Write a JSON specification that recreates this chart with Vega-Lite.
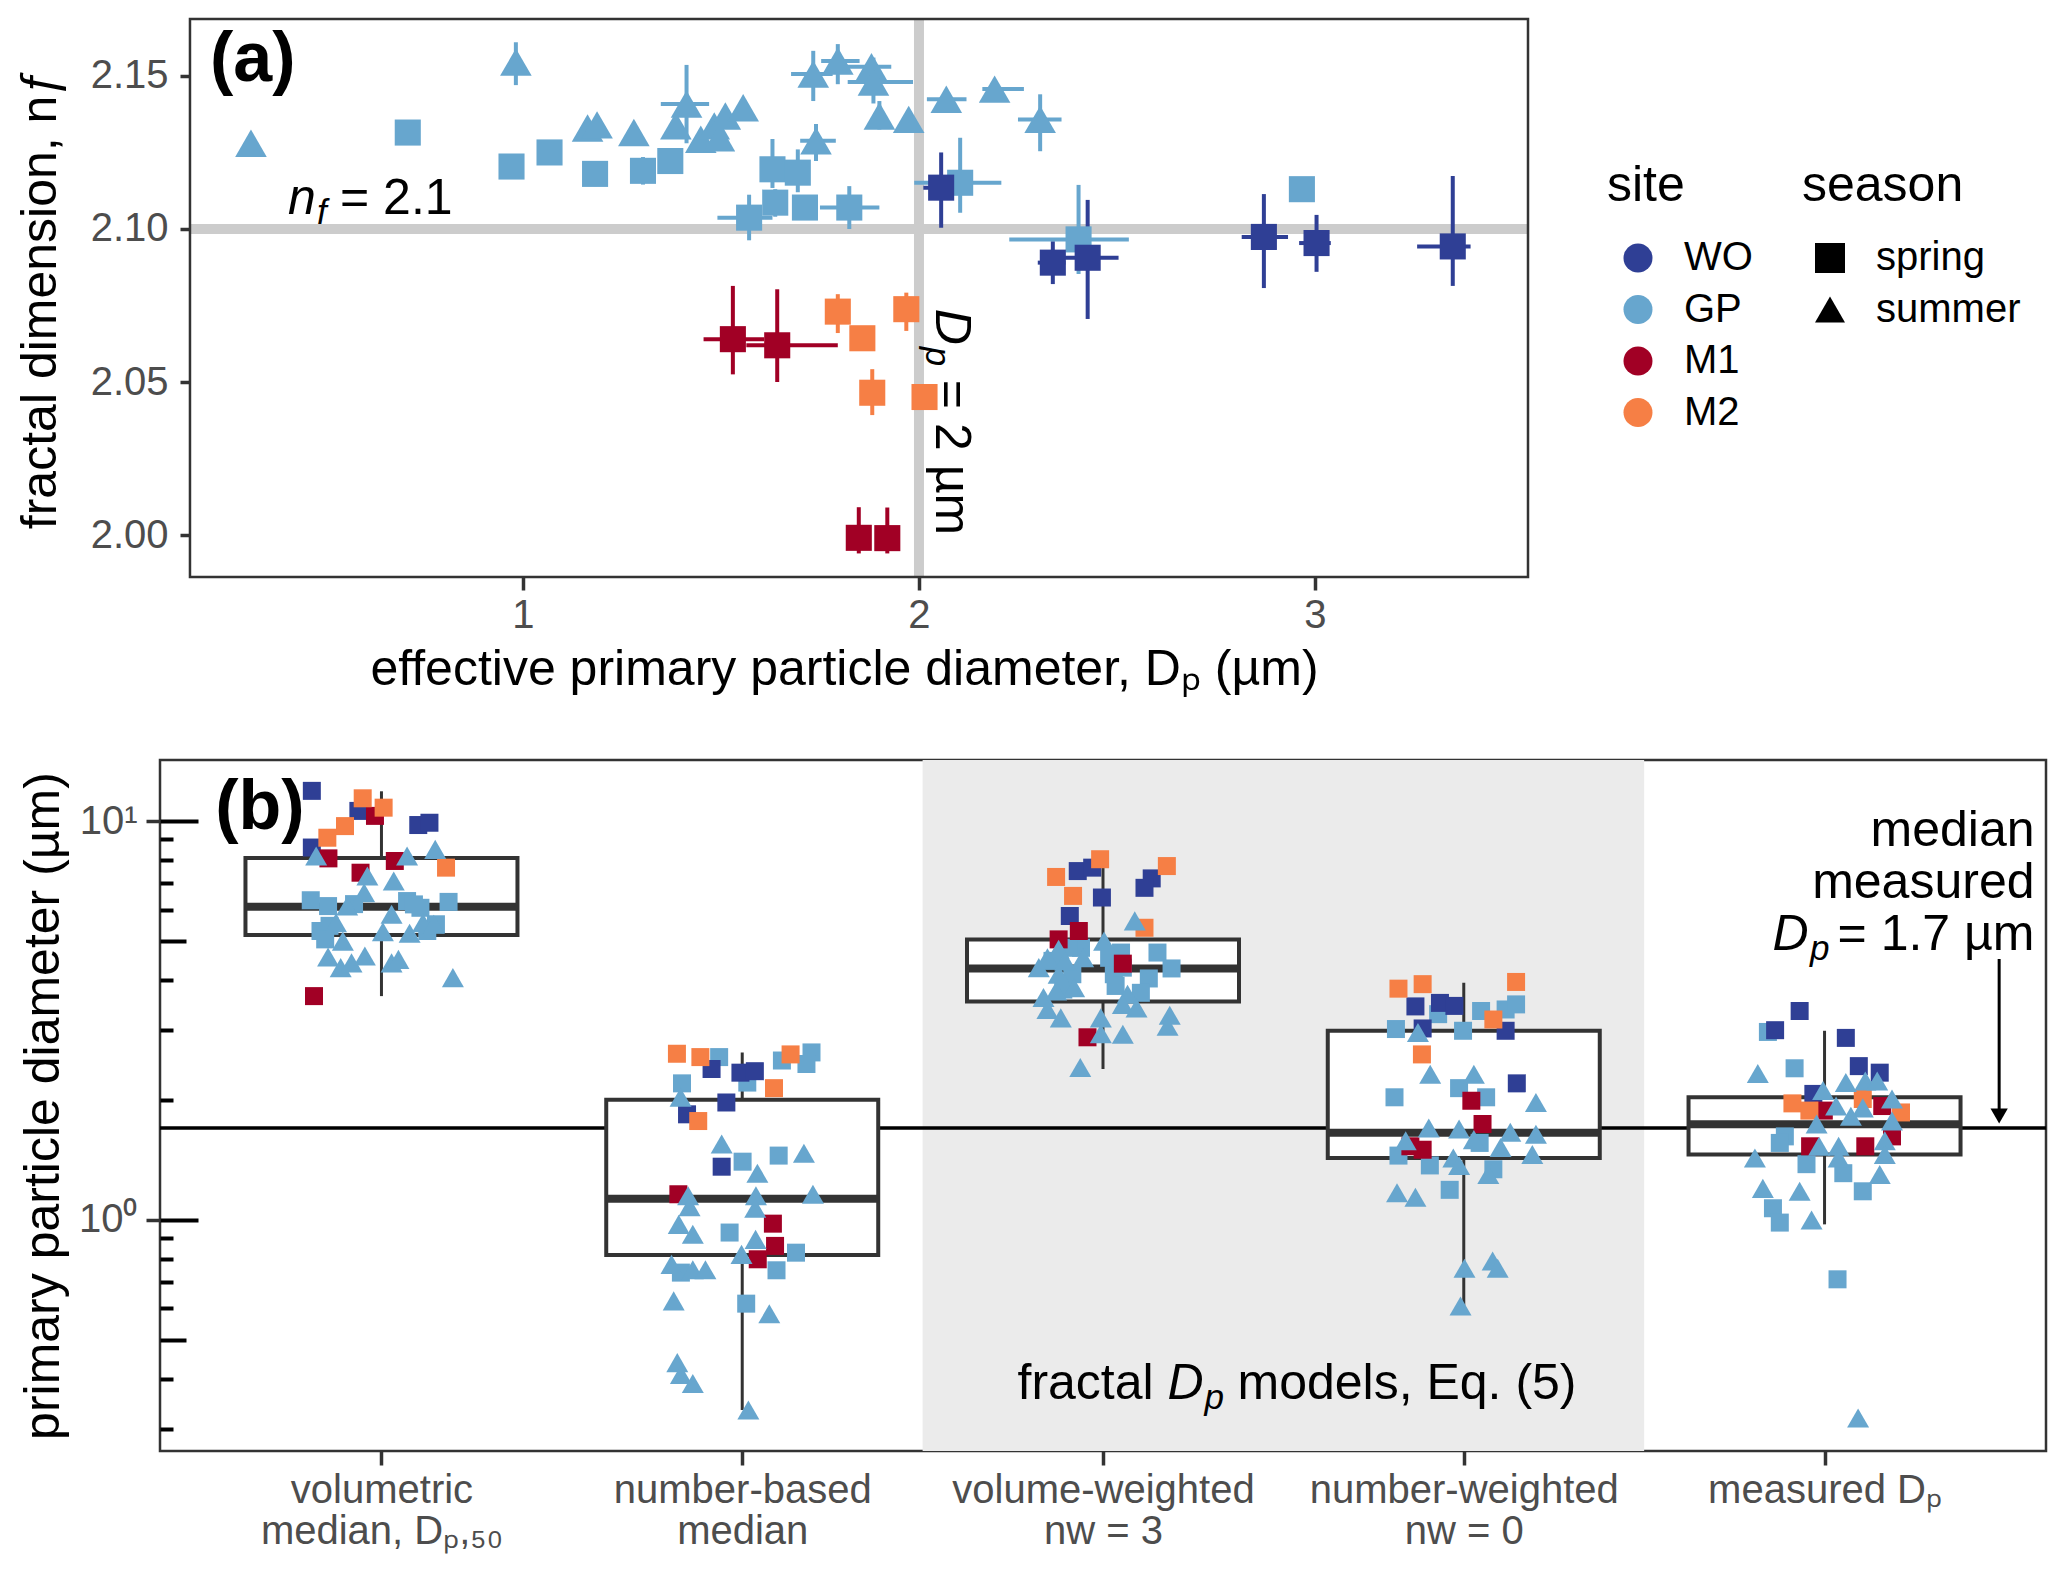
{
  "$schema": "https://vega.github.io/schema/vega-lite/v6.json",
  "background": "white",
  "padding": {"left": 15, "top": 14, "right": 5, "bottom": 5},
  "spacing": 183,
  "bounds": "flush",
  "config": {
    "font": "Liberation Sans",
    "view": {"stroke": "#333333", "strokeWidth": 2.5},
    "axis": {"labelFont": "Liberation Sans", "titleFont": "Liberation Sans", "labelFontSize": 40, "titleFontSize": 50, "labelColor": "#4D4D4D", "titleColor": "#000000", "titleFontWeight": "normal", "tickColor": "#333333", "tickWidth": 3.5, "grid": false, "domain": false, "labelLimit": 600},
    "legend": {"labelFont": "Liberation Sans", "titleFont": "Liberation Sans", "labelFontSize": 40, "titleFontSize": 50, "titleFontWeight": "normal", "labelColor": "#000000", "titleColor": "#000000", "padding": 0},
    "text": {"font": "Liberation Sans", "color": "#000000"}
  },
  "resolve": {"scale": {"color": "independent", "shape": "independent", "size": "independent"}, "legend": {"color": "independent", "shape": "independent", "size": "independent"}},
  "datasets": {
    "a": [
      {"site":"GP","season":"spring","dp":0.709,"nf":2.1315,"dlo":0.709,"dhi":0.709,"nlo":2.1315,"nhi":2.1315},
      {"site":"GP","season":"spring","dp":0.971,"nf":2.1204,"dlo":0.971,"dhi":0.971,"nlo":2.119,"nhi":2.122},
      {"site":"GP","season":"spring","dp":1.067,"nf":2.125,"dlo":1.067,"dhi":1.067,"nlo":2.125,"nhi":2.125},
      {"site":"GP","season":"spring","dp":1.182,"nf":2.118,"dlo":1.182,"dhi":1.182,"nlo":2.114,"nhi":2.122},
      {"site":"GP","season":"spring","dp":1.303,"nf":2.119,"dlo":1.303,"dhi":1.303,"nlo":2.1145,"nhi":2.1235},
      {"site":"GP","season":"spring","dp":1.372,"nf":2.1222,"dlo":1.372,"dhi":1.372,"nlo":2.119,"nhi":2.125},
      {"site":"GP","season":"spring","dp":1.630,"nf":2.1195,"dlo":1.630,"dhi":1.630,"nlo":2.1134,"nhi":2.1294},
      {"site":"GP","season":"spring","dp":1.694,"nf":2.1184,"dlo":1.694,"dhi":1.694,"nlo":2.112,"nhi":2.126},
      {"site":"GP","season":"spring","dp":1.637,"nf":2.1086,"dlo":1.637,"dhi":1.637,"nlo":2.104,"nhi":2.113},
      {"site":"GP","season":"spring","dp":1.571,"nf":2.1037,"dlo":1.491,"dhi":1.630,"nlo":2.0963,"nhi":2.1112},
      {"site":"GP","season":"spring","dp":1.712,"nf":2.107,"dlo":1.712,"dhi":1.712,"nlo":2.103,"nhi":2.111},
      {"site":"GP","season":"spring","dp":1.824,"nf":2.107,"dlo":1.75,"dhi":1.90,"nlo":2.1,"nhi":2.114},
      {"site":"GP","season":"spring","dp":2.104,"nf":2.1151,"dlo":1.988,"dhi":2.208,"nlo":2.1053,"nhi":2.1298},
      {"site":"GP","season":"spring","dp":2.403,"nf":2.0966,"dlo":2.228,"dhi":2.53,"nlo":2.0853,"nhi":2.1144},
      {"site":"GP","season":"spring","dp":2.967,"nf":2.113,"dlo":2.967,"dhi":2.967,"nlo":2.113,"nhi":2.113},
      {"site":"GP","season":"summer","dp":0.313,"nf":2.128,"dlo":0.313,"dhi":0.313,"nlo":2.128,"nhi":2.128},
      {"site":"GP","season":"summer","dp":0.982,"nf":2.1545,"dlo":0.982,"dhi":0.982,"nlo":2.147,"nhi":2.161},
      {"site":"GP","season":"summer","dp":1.163,"nf":2.133,"dlo":1.163,"dhi":1.163,"nlo":2.133,"nhi":2.133},
      {"site":"GP","season":"summer","dp":1.187,"nf":2.134,"dlo":1.187,"dhi":1.187,"nlo":2.134,"nhi":2.134},
      {"site":"GP","season":"summer","dp":1.28,"nf":2.1315,"dlo":1.28,"dhi":1.28,"nlo":2.1295,"nhi":2.1335},
      {"site":"GP","season":"summer","dp":1.386,"nf":2.1337,"dlo":1.386,"dhi":1.386,"nlo":2.1337,"nhi":2.1337},
      {"site":"GP","season":"summer","dp":1.413,"nf":2.1408,"dlo":1.348,"dhi":1.470,"nlo":2.128,"nhi":2.1536},
      {"site":"GP","season":"summer","dp":1.449,"nf":2.1293,"dlo":1.449,"dhi":1.449,"nlo":2.1293,"nhi":2.1293},
      {"site":"GP","season":"summer","dp":1.483,"nf":2.1337,"dlo":1.483,"dhi":1.483,"nlo":2.1337,"nhi":2.1337},
      {"site":"GP","season":"summer","dp":1.496,"nf":2.1298,"dlo":1.496,"dhi":1.496,"nlo":2.1298,"nhi":2.1298},
      {"site":"GP","season":"summer","dp":1.511,"nf":2.1369,"dlo":1.511,"dhi":1.511,"nlo":2.1369,"nhi":2.1369},
      {"site":"GP","season":"summer","dp":1.556,"nf":2.1396,"dlo":1.556,"dhi":1.556,"nlo":2.1365,"nhi":2.1425},
      {"site":"GP","season":"summer","dp":1.733,"nf":2.1506,"dlo":1.677,"dhi":1.782,"nlo":2.1418,"nhi":2.1582},
      {"site":"GP","season":"summer","dp":1.795,"nf":2.1549,"dlo":1.753,"dhi":1.85,"nlo":2.1473,"nhi":2.1604},
      {"site":"GP","season":"summer","dp":1.740,"nf":2.1288,"dlo":1.70,"dhi":1.79,"nlo":2.1222,"nhi":2.1343},
      {"site":"GP","season":"summer","dp":1.88,"nf":2.153,"dlo":1.80,"dhi":1.93,"nlo":2.150,"nhi":2.156},
      {"site":"GP","season":"summer","dp":1.885,"nf":2.148,"dlo":1.82,"dhi":1.985,"nlo":2.141,"nhi":2.156},
      {"site":"GP","season":"summer","dp":1.900,"nf":2.1369,"dlo":1.900,"dhi":1.900,"nlo":2.1325,"nhi":2.1418},
      {"site":"GP","season":"summer","dp":1.974,"nf":2.1358,"dlo":1.974,"dhi":1.974,"nlo":2.1358,"nhi":2.1358},
      {"site":"GP","season":"summer","dp":2.069,"nf":2.1424,"dlo":2.02,"dhi":2.12,"nlo":2.1395,"nhi":2.145},
      {"site":"GP","season":"summer","dp":2.191,"nf":2.1457,"dlo":2.16,"dhi":2.265,"nlo":2.1457,"nhi":2.1457},
      {"site":"GP","season":"summer","dp":2.306,"nf":2.1358,"dlo":2.25,"dhi":2.36,"nlo":2.1254,"nhi":2.144},
      {"site":"WO","season":"spring","dp":2.056,"nf":2.1135,"dlo":2.011,"dhi":2.107,"nlo":2.1004,"nhi":2.125},
      {"site":"WO","season":"spring","dp":2.338,"nf":2.089,"dlo":2.30,"dhi":2.37,"nlo":2.082,"nhi":2.096},
      {"site":"WO","season":"spring","dp":2.426,"nf":2.0906,"dlo":2.365,"dhi":2.504,"nlo":2.0706,"nhi":2.1095},
      {"site":"WO","season":"spring","dp":2.871,"nf":2.0974,"dlo":2.815,"dhi":2.932,"nlo":2.0807,"nhi":2.1114},
      {"site":"WO","season":"spring","dp":3.004,"nf":2.0954,"dlo":2.96,"dhi":3.04,"nlo":2.086,"nhi":2.1046},
      {"site":"WO","season":"spring","dp":3.348,"nf":2.0943,"dlo":3.258,"dhi":3.393,"nlo":2.0814,"nhi":2.1173},
      {"site":"M1","season":"spring","dp":1.530,"nf":2.064,"dlo":1.456,"dhi":1.609,"nlo":2.0525,"nhi":2.0814},
      {"site":"M1","season":"spring","dp":1.642,"nf":2.062,"dlo":1.564,"dhi":1.795,"nlo":2.05,"nhi":2.0803},
      {"site":"M1","season":"spring","dp":1.848,"nf":1.9991,"dlo":1.848,"dhi":1.848,"nlo":1.994,"nhi":2.0091},
      {"site":"M1","season":"spring","dp":1.92,"nf":1.999,"dlo":1.92,"dhi":1.92,"nlo":1.994,"nhi":2.009},
      {"site":"M2","season":"spring","dp":1.795,"nf":2.073,"dlo":1.795,"dhi":1.795,"nlo":2.066,"nhi":2.0787},
      {"site":"M2","season":"spring","dp":1.857,"nf":2.0643,"dlo":1.857,"dhi":1.857,"nlo":2.0643,"nhi":2.0643},
      {"site":"M2","season":"spring","dp":1.882,"nf":2.0465,"dlo":1.87,"dhi":1.895,"nlo":2.0392,"nhi":2.0542},
      {"site":"M2","season":"spring","dp":1.968,"nf":2.0738,"dlo":1.968,"dhi":1.968,"nlo":2.0667,"nhi":2.0792},
      {"site":"M2","season":"spring","dp":2.014,"nf":2.0451,"dlo":2.014,"dhi":2.014,"nlo":2.0451,"nhi":2.0451}
    ],
    "bbox": [
      {"idx":1,"lo":3.64,"q1":5.18,"med":6.10,"q3":8.08,"hi":11.87},
      {"idx":2,"lo":0.334,"q1":0.817,"med":1.13,"q3":2.00,"hi":2.63},
      {"idx":3,"lo":2.39,"q1":3.53,"med":4.27,"q3":5.05,"hi":7.64},
      {"idx":4,"lo":0.586,"q1":1.43,"med":1.655,"q3":2.98,"hi":3.93},
      {"idx":5,"lo":0.975,"q1":1.46,"med":1.737,"q3":2.03,"hi":2.98}
    ],
    "b": [
      {"x":0.804,"v":6.33,"site":"GP","season":"spring"},{"x":0.852,"v":6.12,"site":"GP","season":"spring"},{"x":0.924,"v":6.19,"site":"GP","season":"spring"},{"x":1.071,"v":6.30,"site":"GP","season":"spring"},{"x":1.09,"v":6.18,"site":"GP","season":"spring"},{"x":1.108,"v":6.06,"site":"GP","season":"spring"},{"x":1.186,"v":6.27,"site":"GP","season":"spring"},{"x":0.831,"v":5.30,"site":"GP","season":"spring"},{"x":0.856,"v":5.46,"site":"GP","season":"spring"},{"x":0.844,"v":5.05,"site":"GP","season":"spring"},{"x":1.151,"v":5.51,"site":"GP","season":"spring"},{"x":1.127,"v":5.30,"site":"GP","season":"spring"},
      {"x":0.807,"v":11.9,"site":"WO","season":"spring"},{"x":0.936,"v":10.6,"site":"WO","season":"spring"},{"x":0.807,"v":8.58,"site":"WO","season":"spring"},{"x":1.102,"v":9.77,"site":"WO","season":"spring"},{"x":1.133,"v":9.90,"site":"WO","season":"spring"},
      {"x":0.982,"v":10.3,"site":"M1","season":"spring"},{"x":0.853,"v":8.06,"site":"M1","season":"spring"},{"x":1.037,"v":7.94,"site":"M1","season":"spring"},{"x":0.942,"v":7.42,"site":"M1","season":"spring"},{"x":0.813,"v":3.64,"site":"M1","season":"spring"},
      {"x":0.948,"v":11.4,"site":"M2","season":"spring"},{"x":1.006,"v":10.8,"site":"M2","season":"spring"},{"x":0.899,"v":9.71,"site":"M2","season":"spring"},{"x":0.850,"v":9.08,"site":"M2","season":"spring"},{"x":1.179,"v":7.64,"site":"M2","season":"spring"},
      {"x":0.819,"v":8.17,"site":"GP","season":"summer"},{"x":1.149,"v":8.49,"site":"GP","season":"summer"},{"x":1.071,"v":8.17,"site":"GP","season":"summer"},{"x":0.961,"v":7.28,"site":"GP","season":"summer"},{"x":1.034,"v":7.07,"site":"GP","season":"summer"},{"x":0.952,"v":6.61,"site":"GP","season":"summer"},{"x":0.905,"v":6.12,"site":"GP","season":"summer"},{"x":1.028,"v":5.84,"site":"GP","season":"summer"},{"x":0.874,"v":5.56,"site":"GP","season":"summer"},{"x":0.893,"v":5.00,"site":"GP","season":"summer"},{"x":1.004,"v":5.28,"site":"GP","season":"summer"},{"x":1.115,"v":5.56,"site":"GP","season":"summer"},{"x":1.145,"v":5.51,"site":"GP","season":"summer"},{"x":1.078,"v":5.23,"site":"GP","season":"summer"},{"x":0.852,"v":4.56,"site":"GP","season":"summer"},{"x":0.887,"v":4.29,"site":"GP","season":"summer"},{"x":0.917,"v":4.41,"site":"GP","season":"summer"},{"x":0.954,"v":4.59,"site":"GP","season":"summer"},{"x":1.028,"v":4.41,"site":"GP","season":"summer"},{"x":1.047,"v":4.50,"site":"GP","season":"summer"},{"x":1.198,"v":4.05,"site":"GP","season":"summer"},
      {"x":1.936,"v":2.56,"site":"GP","season":"spring"},{"x":2.192,"v":2.63,"site":"GP","season":"spring"},{"x":2.110,"v":2.51,"site":"GP","season":"spring"},{"x":2.178,"v":2.46,"site":"GP","season":"spring"},{"x":2.014,"v":2.21,"site":"GP","season":"spring"},{"x":1.833,"v":2.20,"site":"GP","season":"spring"},{"x":2.001,"v":1.40,"site":"GP","season":"spring"},{"x":2.101,"v":1.45,"site":"GP","season":"spring"},{"x":1.965,"v":0.93,"site":"GP","season":"spring"},{"x":2.149,"v":0.828,"site":"GP","season":"spring"},{"x":1.830,"v":0.738,"site":"GP","season":"spring"},{"x":2.095,"v":0.748,"site":"GP","season":"spring"},{"x":2.011,"v":0.617,"site":"GP","season":"spring"},
      {"x":1.915,"v":2.39,"site":"WO","season":"spring"},{"x":1.995,"v":2.34,"site":"WO","season":"spring"},{"x":2.035,"v":2.36,"site":"WO","season":"spring"},{"x":1.956,"v":1.97,"site":"WO","season":"spring"},{"x":1.847,"v":1.84,"site":"WO","season":"spring"},{"x":1.943,"v":1.36,"site":"WO","season":"spring"},
      {"x":1.823,"v":1.16,"site":"M1","season":"spring"},{"x":2.085,"v":0.979,"site":"M1","season":"spring"},{"x":2.091,"v":0.861,"site":"M1","season":"spring"},{"x":2.043,"v":0.797,"site":"M1","season":"spring"},
      {"x":1.819,"v":2.61,"site":"M2","season":"spring"},{"x":1.884,"v":2.56,"site":"M2","season":"spring"},{"x":2.134,"v":2.60,"site":"M2","season":"spring"},{"x":2.088,"v":2.14,"site":"M2","season":"spring"},{"x":1.878,"v":1.77,"site":"M2","season":"spring"},
      {"x":1.829,"v":2.03,"site":"GP","season":"summer"},{"x":1.943,"v":1.55,"site":"GP","season":"summer"},{"x":2.171,"v":1.47,"site":"GP","season":"summer"},{"x":2.042,"v":1.31,"site":"GP","season":"summer"},{"x":1.850,"v":1.15,"site":"GP","season":"summer"},{"x":1.854,"v":1.08,"site":"GP","season":"summer"},{"x":2.038,"v":1.15,"site":"GP","season":"summer"},{"x":2.036,"v":1.07,"site":"GP","season":"summer"},{"x":2.196,"v":1.16,"site":"GP","season":"summer"},{"x":1.824,"v":0.975,"site":"GP","season":"summer"},{"x":1.863,"v":0.921,"site":"GP","season":"summer"},{"x":2.037,"v":0.894,"site":"GP","season":"summer"},{"x":1.998,"v":0.82,"site":"GP","season":"summer"},{"x":1.804,"v":0.774,"site":"GP","season":"summer"},{"x":1.863,"v":0.75,"site":"GP","season":"summer"},{"x":1.898,"v":0.75,"site":"GP","season":"summer"},{"x":1.810,"v":0.627,"site":"GP","season":"summer"},{"x":2.075,"v":0.582,"site":"GP","season":"summer"},{"x":1.82,"v":0.439,"site":"GP","season":"summer"},{"x":1.83,"v":0.41,"site":"GP","season":"summer"},{"x":1.863,"v":0.389,"site":"GP","season":"summer"},{"x":2.017,"v":0.334,"site":"GP","season":"summer"},
      {"x":2.939,"v":4.81,"site":"GP","season":"spring"},{"x":3.05,"v":4.68,"site":"GP","season":"spring"},{"x":3.151,"v":4.68,"site":"GP","season":"spring"},{"x":3.19,"v":4.27,"site":"GP","season":"spring"},{"x":3.127,"v":4.03,"site":"GP","season":"spring"},{"x":3.035,"v":3.86,"site":"GP","season":"spring"},{"x":3.105,"v":3.71,"site":"GP","season":"spring"},{"x":2.86,"v":4.46,"site":"GP","season":"spring"},{"x":2.915,"v":4.13,"site":"GP","season":"spring"},{"x":3.03,"v":4.13,"site":"GP","season":"spring"},{"x":2.905,"v":4.81,"site":"GP","season":"spring"},{"x":3.055,"v":4.29,"site":"GP","season":"spring"},{"x":3.017,"v":4.54,"site":"GP","season":"spring"},{"x":2.89,"v":3.78,"site":"GP","season":"spring"},
      {"x":2.93,"v":7.49,"site":"WO","season":"spring"},{"x":2.97,"v":7.64,"site":"WO","season":"spring"},{"x":3.135,"v":7.18,"site":"WO","season":"spring"},{"x":3.115,"v":6.80,"site":"WO","season":"spring"},{"x":2.997,"v":6.43,"site":"WO","season":"spring"},{"x":2.908,"v":5.78,"site":"WO","season":"spring"},
      {"x":2.933,"v":5.30,"site":"M1","season":"spring"},{"x":2.877,"v":5.05,"site":"M1","season":"spring"},{"x":3.055,"v":4.39,"site":"M1","season":"spring"},{"x":2.957,"v":2.87,"site":"M1","season":"spring"},
      {"x":2.992,"v":8.02,"site":"M2","season":"spring"},{"x":2.87,"v":7.24,"site":"M2","season":"spring"},{"x":3.177,"v":7.71,"site":"M2","season":"spring"},{"x":2.917,"v":6.49,"site":"M2","season":"spring"},{"x":3.115,"v":5.40,"site":"M2","season":"spring"},
      {"x":3.088,"v":5.62,"site":"GP","season":"summer"},{"x":3.003,"v":5.00,"site":"GP","season":"summer"},{"x":2.877,"v":4.77,"site":"GP","season":"summer"},{"x":2.822,"v":4.29,"site":"GP","season":"summer"},{"x":2.846,"v":4.54,"site":"GP","season":"summer"},{"x":2.877,"v":4.13,"site":"GP","season":"summer"},{"x":2.895,"v":4.46,"site":"GP","season":"summer"},{"x":2.92,"v":3.82,"site":"GP","season":"summer"},{"x":2.87,"v":3.75,"site":"GP","season":"summer"},{"x":2.835,"v":3.61,"site":"GP","season":"summer"},{"x":2.945,"v":4.54,"site":"GP","season":"summer"},{"x":3.068,"v":3.68,"site":"GP","season":"summer"},{"x":3.055,"v":3.47,"site":"GP","season":"summer"},{"x":3.093,"v":3.40,"site":"GP","season":"summer"},{"x":2.846,"v":3.37,"site":"GP","season":"summer"},{"x":2.883,"v":3.21,"site":"GP","season":"summer"},{"x":2.994,"v":3.21,"site":"GP","season":"summer"},{"x":3.055,"v":2.92,"site":"GP","season":"summer"},{"x":3.185,"v":3.26,"site":"GP","season":"summer"},{"x":3.179,"v":3.06,"site":"GP","season":"summer"},{"x":2.994,"v":2.93,"site":"GP","season":"summer"},{"x":2.937,"v":2.41,"site":"GP","season":"summer"},
      {"x":3.929,"v":3.28,"site":"GP","season":"spring"},{"x":4.048,"v":3.34,"site":"GP","season":"spring"},{"x":4.116,"v":3.37,"site":"GP","season":"spring"},{"x":4.145,"v":3.47,"site":"GP","season":"spring"},{"x":3.812,"v":3.01,"site":"GP","season":"spring"},{"x":3.998,"v":2.98,"site":"GP","season":"spring"},{"x":3.808,"v":2.03,"site":"GP","season":"spring"},{"x":3.987,"v":2.14,"site":"GP","season":"spring"},{"x":4.062,"v":2.03,"site":"GP","season":"spring"},{"x":3.819,"v":1.45,"site":"GP","season":"spring"},{"x":3.906,"v":1.37,"site":"GP","season":"spring"},{"x":4.044,"v":1.56,"site":"GP","season":"spring"},{"x":4.082,"v":1.34,"site":"GP","season":"spring"},{"x":3.961,"v":1.19,"site":"GP","season":"spring"},
      {"x":3.866,"v":3.43,"site":"WO","season":"spring"},{"x":3.934,"v":3.50,"site":"WO","season":"spring"},{"x":3.974,"v":3.44,"site":"WO","season":"spring"},{"x":3.886,"v":3.02,"site":"WO","season":"spring"},{"x":4.116,"v":2.98,"site":"WO","season":"spring"},{"x":4.147,"v":2.20,"site":"WO","season":"spring"},
      {"x":4.021,"v":1.99,"site":"M1","season":"spring"},{"x":4.052,"v":1.74,"site":"M1","season":"spring"},{"x":3.852,"v":1.53,"site":"M1","season":"spring"},{"x":3.886,"v":1.50,"site":"M1","season":"spring"},
      {"x":3.819,"v":3.80,"site":"M2","season":"spring"},{"x":3.886,"v":3.90,"site":"M2","season":"spring"},{"x":4.145,"v":3.95,"site":"M2","season":"spring"},{"x":4.082,"v":3.18,"site":"M2","season":"spring"},{"x":3.884,"v":2.60,"site":"M2","season":"spring"},
      {"x":3.873,"v":2.95,"site":"GP","season":"summer"},{"x":3.907,"v":2.32,"site":"GP","season":"summer"},{"x":4.028,"v":2.32,"site":"GP","season":"summer"},{"x":4.2,"v":1.97,"site":"GP","season":"summer"},{"x":3.903,"v":1.70,"site":"GP","season":"summer"},{"x":3.987,"v":1.69,"site":"GP","season":"summer"},{"x":4.129,"v":1.66,"site":"GP","season":"summer"},{"x":4.2,"v":1.64,"site":"GP","season":"summer"},{"x":4.028,"v":1.59,"site":"GP","season":"summer"},{"x":3.839,"v":1.58,"site":"GP","season":"summer"},{"x":3.971,"v":1.43,"site":"GP","season":"summer"},{"x":3.987,"v":1.37,"site":"GP","season":"summer"},{"x":4.102,"v":1.52,"site":"GP","season":"summer"},{"x":4.19,"v":1.46,"site":"GP","season":"summer"},{"x":4.068,"v":1.30,"site":"GP","season":"summer"},{"x":3.815,"v":1.17,"site":"GP","season":"summer"},{"x":3.866,"v":1.14,"site":"GP","season":"summer"},{"x":4.002,"v":0.757,"site":"GP","season":"summer"},{"x":4.08,"v":0.789,"site":"GP","season":"summer"},{"x":4.094,"v":0.757,"site":"GP","season":"summer"},{"x":3.991,"v":0.609,"site":"GP","season":"summer"},
      {"x":4.843,"v":2.96,"site":"GP","season":"spring"},{"x":4.917,"v":2.40,"site":"GP","season":"spring"},{"x":4.89,"v":1.62,"site":"GP","season":"spring"},{"x":4.876,"v":1.56,"site":"GP","season":"spring"},{"x":4.95,"v":1.38,"site":"GP","season":"spring"},{"x":5.052,"v":1.31,"site":"GP","season":"spring"},{"x":5.106,"v":1.18,"site":"GP","season":"spring"},{"x":4.857,"v":1.07,"site":"GP","season":"spring"},{"x":4.876,"v":0.985,"site":"GP","season":"spring"},{"x":5.036,"v":0.71,"site":"GP","season":"spring"},
      {"x":4.931,"v":3.34,"site":"WO","season":"spring"},{"x":4.863,"v":2.99,"site":"WO","season":"spring"},{"x":5.059,"v":2.86,"site":"WO","season":"spring"},{"x":5.095,"v":2.43,"site":"WO","season":"spring"},{"x":5.153,"v":2.34,"site":"WO","season":"spring"},{"x":4.969,"v":2.07,"site":"WO","season":"spring"},
      {"x":4.998,"v":1.88,"site":"M1","season":"spring"},{"x":5.16,"v":1.93,"site":"M1","season":"spring"},{"x":5.187,"v":1.62,"site":"M1","season":"spring"},{"x":4.96,"v":1.53,"site":"M1","season":"spring"},{"x":5.113,"v":1.53,"site":"M1","season":"spring"},
      {"x":4.911,"v":1.96,"site":"M2","season":"spring"},{"x":5.106,"v":2.01,"site":"M2","season":"spring"},{"x":5.212,"v":1.86,"site":"M2","season":"spring"},{"x":4.958,"v":1.88,"site":"M2","season":"spring"},
      {"x":4.815,"v":2.33,"site":"GP","season":"summer"},{"x":5.059,"v":2.21,"site":"GP","season":"summer"},{"x":5.113,"v":2.23,"site":"GP","season":"summer"},{"x":5.146,"v":2.23,"site":"GP","season":"summer"},{"x":4.996,"v":2.11,"site":"GP","season":"summer"},{"x":5.187,"v":2.01,"site":"GP","season":"summer"},{"x":5.032,"v":1.93,"site":"GP","season":"summer"},{"x":5.106,"v":1.91,"site":"GP","season":"summer"},{"x":5.073,"v":1.82,"site":"GP","season":"summer"},{"x":4.978,"v":1.74,"site":"GP","season":"summer"},{"x":5.187,"v":1.77,"site":"GP","season":"summer"},{"x":4.985,"v":1.53,"site":"GP","season":"summer"},{"x":5.039,"v":1.53,"site":"GP","season":"summer"},{"x":5.167,"v":1.58,"site":"GP","season":"summer"},{"x":4.807,"v":1.43,"site":"GP","season":"summer"},{"x":5.039,"v":1.43,"site":"GP","season":"summer"},{"x":5.167,"v":1.46,"site":"GP","season":"summer"},{"x":5.153,"v":1.30,"site":"GP","season":"summer"},{"x":4.829,"v":1.20,"site":"GP","season":"summer"},{"x":4.931,"v":1.18,"site":"GP","season":"summer"},{"x":4.964,"v":1.00,"site":"GP","season":"summer"},{"x":5.093,"v":0.319,"site":"GP","season":"summer"}
    ]
  },
  "vconcat": [
    {
      "width": 1368,
      "height": 558,
      "view": {"stroke": null},
      "layer": [
        {"data": {"values": [{}]}, "mark": {"type": "rule", "color": "#CCCCCC", "strokeWidth": 10},
         "encoding": {"x": {"datum": 0.159, "type": "quantitative", "scale": {"domain": [0.0833, 3.538], "nice": false, "zero": false}}, "x2": {"datum": 3.538}, "y": {"datum": 2.1, "type": "quantitative", "scale": {"domain": [1.9863, 2.1686], "nice": false, "zero": false}}}},
        {"data": {"values": [{}]}, "mark": {"type": "rule", "color": "#CCCCCC", "strokeWidth": 10},
         "encoding": {"x": {"datum": 2, "type": "quantitative", "scale": {"domain": [0.0833, 3.538], "nice": false, "zero": false}}, "y": {"datum": 1.9863, "type": "quantitative", "scale": {"domain": [1.9863, 2.1686], "nice": false, "zero": false}}, "y2": {"datum": 2.1686}}},
        {"data": {"name": "a"}, "mark": {"type": "rule", "strokeWidth": 4},
         "encoding": {"x": {"field": "dp", "type": "quantitative", "scale": {"domain": [0.0833, 3.538], "nice": false, "zero": false}}, "y": {"field": "nlo", "type": "quantitative", "scale": {"domain": [1.9863, 2.1686], "nice": false, "zero": false}}, "y2": {"field": "nhi"},
           "stroke": {"field": "site", "type": "nominal", "scale": {"domain": ["WO", "GP", "M1", "M2"], "range": ["#2F3F95", "#67A6CE", "#A10025", "#F67F45"]}, "legend": null}}},
        {"data": {"name": "a"}, "mark": {"type": "rule", "strokeWidth": 4},
         "encoding": {"x": {"field": "dlo", "type": "quantitative", "scale": {"domain": [0.0833, 3.538], "nice": false, "zero": false}}, "x2": {"field": "dhi"}, "y": {"field": "nf", "type": "quantitative", "scale": {"domain": [1.9863, 2.1686], "nice": false, "zero": false}},
           "stroke": {"field": "site", "type": "nominal", "scale": {"domain": ["WO", "GP", "M1", "M2"], "range": ["#2F3F95", "#67A6CE", "#A10025", "#F67F45"]}, "legend": null}}},
        {"data": {"name": "a"}, "transform": [{"filter": "datum.season == 'spring'"}],
         "mark": {"type": "point", "filled": true, "opacity": 1, "size": 680},
         "encoding": {
           "x": {"field": "dp", "type": "quantitative", "scale": {"domain": [0.0833, 3.538], "nice": false, "zero": false},
                 "axis": {"values": [1, 2, 3], "format": "d", "tickSize": 13, "labelPadding": 5, "title": "effective primary particle diameter, Dₚ (µm)", "titlePadding": 9}},
           "y": {"field": "nf", "type": "quantitative", "scale": {"domain": [1.9863, 2.1686], "nice": false, "zero": false},
                 "axis": {"values": [2, 2.05, 2.1, 2.15], "format": ".2f", "tickSize": 10, "labelPadding": 12, "offset": -30, "title": "fractal dimension, nƒ", "titlePadding": 25}},
           "color": {"field": "site", "type": "nominal", "scale": {"domain": ["WO", "GP", "M1", "M2"], "range": ["#2F3F95", "#67A6CE", "#A10025", "#F67F45"]},
                     "legend": {"title": "site", "orient": "none", "legendX": 1447, "legendY": 142, "symbolType": "circle", "symbolSize": 841, "symbolStrokeWidth": 0, "titlePadding": 27, "rowPadding": 11.5, "labelOffset": 26, "symbolOffset": 11}},
           "shape": {"field": "season", "type": "nominal", "scale": {"domain": ["spring", "summer"], "range": ["square", "triangle-up"]},
                     "legend": {"title": "season", "orient": "none", "legendX": 1642, "legendY": 142, "symbolSize": 900, "symbolFillColor": "#000000", "symbolStrokeColor": "#000000", "symbolStrokeWidth": 0, "titlePadding": 27, "rowPadding": 11.5, "labelOffset": 26, "symbolOffset": 8}}
         }},
        {"data": {"name": "a"}, "transform": [{"filter": "datum.season == 'summer'"}],
         "mark": {"type": "point", "filled": true, "opacity": 1, "size": 1000},
         "encoding": {
           "x": {"field": "dp", "type": "quantitative", "scale": {"domain": [0.0833, 3.538], "nice": false, "zero": false}},
           "y": {"field": "nf", "type": "quantitative", "scale": {"domain": [1.9863, 2.1686], "nice": false, "zero": false}},
           "color": {"field": "site", "type": "nominal", "scale": {"domain": ["WO", "GP", "M1", "M2"], "range": ["#2F3F95", "#67A6CE", "#A10025", "#F67F45"]}},
           "shape": {"field": "season", "type": "nominal", "scale": {"domain": ["spring", "summer"], "range": ["square", "triangle-up"]}}
         }},
        {"data": {"values": [{}]}, "mark": {"type": "rect", "fillOpacity": 0, "stroke": "#333333", "strokeWidth": 2.5},
         "encoding": {"x": {"datum": 0.159, "type": "quantitative", "scale": {"domain": [0.0833, 3.538], "nice": false, "zero": false}}, "x2": {"datum": 3.538}, "y": {"datum": 1.9863, "type": "quantitative", "scale": {"domain": [1.9863, 2.1686], "nice": false, "zero": false}}, "y2": {"datum": 2.1686}}},
        {"data": {"values": [{}]}, "mark": {"type": "text", "text": "(a)", "fontSize": 70, "fontWeight": "bold", "align": "left", "baseline": "middle"},
         "encoding": {"x": {"datum": 0.2096, "type": "quantitative", "scale": {"domain": [0.0833, 3.538], "nice": false, "zero": false}}, "y": {"datum": 2.1552, "type": "quantitative", "scale": {"domain": [1.9863, 2.1686], "nice": false, "zero": false}}}},
        {"data": {"values": [{}]}, "mark": {"type": "text", "text": "n", "fontSize": 50, "fontStyle": "italic", "align": "left", "baseline": "alphabetic"},
         "encoding": {"x": {"datum": 0.4066, "type": "quantitative", "scale": {"domain": [0.0833, 3.538], "nice": false, "zero": false}}, "y": {"datum": 2.1049, "type": "quantitative", "scale": {"domain": [1.9863, 2.1686], "nice": false, "zero": false}}}},
        {"data": {"values": [{}]}, "mark": {"type": "text", "text": "f", "fontSize": 35, "fontStyle": "italic", "align": "left", "baseline": "alphabetic", "dx": 29, "dy": 10},
         "encoding": {"x": {"datum": 0.4066, "type": "quantitative", "scale": {"domain": [0.0833, 3.538], "nice": false, "zero": false}}, "y": {"datum": 2.1049, "type": "quantitative", "scale": {"domain": [1.9863, 2.1686], "nice": false, "zero": false}}}},
        {"data": {"values": [{}]}, "mark": {"type": "text", "text": "= 2.1", "fontSize": 50, "align": "left", "baseline": "alphabetic", "dx": 52},
         "encoding": {"x": {"datum": 0.4066, "type": "quantitative", "scale": {"domain": [0.0833, 3.538], "nice": false, "zero": false}}, "y": {"datum": 2.1049, "type": "quantitative", "scale": {"domain": [1.9863, 2.1686], "nice": false, "zero": false}}}},
        {"data": {"values": [{}]}, "mark": {"type": "text", "text": "D", "fontSize": 50, "fontStyle": "italic", "align": "left", "baseline": "alphabetic", "angle": 90},
         "encoding": {"x": {"datum": 2.0429, "type": "quantitative", "scale": {"domain": [0.0833, 3.538], "nice": false, "zero": false}}, "y": {"datum": 2.0739, "type": "quantitative", "scale": {"domain": [1.9863, 2.1686], "nice": false, "zero": false}}}},
        {"data": {"values": [{}]}, "mark": {"type": "text", "text": "p", "fontSize": 35, "fontStyle": "italic", "align": "left", "baseline": "alphabetic", "angle": 90, "dx": 38, "dy": 10},
         "encoding": {"x": {"datum": 2.0429, "type": "quantitative", "scale": {"domain": [0.0833, 3.538], "nice": false, "zero": false}}, "y": {"datum": 2.0739, "type": "quantitative", "scale": {"domain": [1.9863, 2.1686], "nice": false, "zero": false}}}},
        {"data": {"values": [{}]}, "mark": {"type": "text", "text": "= 2 µm", "fontSize": 50, "align": "left", "baseline": "alphabetic", "angle": 90, "dx": 71},
         "encoding": {"x": {"datum": 2.0429, "type": "quantitative", "scale": {"domain": [0.0833, 3.538], "nice": false, "zero": false}}, "y": {"datum": 2.0739, "type": "quantitative", "scale": {"domain": [1.9863, 2.1686], "nice": false, "zero": false}}}}
      ]
    },
    {
      "width": 1886,
      "height": 691,
      "resolve": {"axis": {"y": "independent"}},
      "layer": [
        {"data": {"values": [{}]}, "mark": {"type": "rect", "color": "#EBEBEB"},
         "encoding": {"x": {"datum": 2.5, "type": "quantitative", "scale": {"domain": [0.4, 5.6], "nice": false, "zero": false}}, "x2": {"datum": 4.5},
           "y": {"datum": 0.2636, "type": "quantitative", "scale": {"type": "log", "domain": [0.2636, 14.22], "nice": false}, "axis": null}, "y2": {"datum": 14.22}}},
        {"data": {"values": [{}]}, "mark": {"type": "rule", "color": "#000000", "strokeWidth": 3.5},
         "encoding": {"y": {"datum": 1.7, "type": "quantitative", "scale": {"type": "log", "domain": [0.2636, 14.22], "nice": false}, "axis": null}}},
        {"data": {"name": "bbox"}, "mark": {"type": "rule", "color": "#333333", "strokeWidth": 3},
         "encoding": {"x": {"field": "idx", "type": "quantitative", "scale": {"domain": [0.4, 5.6], "nice": false, "zero": false}},
           "y": {"field": "lo", "type": "quantitative", "scale": {"type": "log", "domain": [0.2636, 14.22], "nice": false},
                 "axis": {"orient": "left", "values": [0.5, 5], "tickSize": -26, "tickWidth": 4, "tickColor": "#000000", "labels": false, "title": null}},
           "y2": {"field": "hi"}}},
        {"data": {"name": "bbox"}, "mark": {"type": "bar", "width": 272, "fill": "#FFFFFF", "stroke": "#333333", "strokeWidth": 4},
         "encoding": {"x": {"field": "idx", "type": "quantitative", "scale": {"domain": [0.4, 5.6], "nice": false, "zero": false}},
           "y": {"field": "q1", "type": "quantitative", "scale": {"type": "log", "domain": [0.2636, 14.22], "nice": false},
                 "axis": {"orient": "left", "values": [1, 10], "tickSize": -38, "tickWidth": 4, "tickColor": "#000000", "labels": false, "title": null}},
           "y2": {"field": "q3"}}},
        {"data": {"name": "bbox"}, "mark": {"type": "tick", "orient": "horizontal", "size": 272, "thickness": 8, "color": "#333333", "opacity": 1},
         "encoding": {"x": {"field": "idx", "type": "quantitative", "scale": {"domain": [0.4, 5.6], "nice": false, "zero": false}},
           "y": {"field": "med", "type": "quantitative", "scale": {"type": "log", "domain": [0.2636, 14.22], "nice": false},
                 "axis": {"orient": "left", "values": [0.3, 0.4, 0.6, 0.7, 0.8, 0.9, 2, 3, 4, 6, 7, 8, 9], "tickSize": -13, "tickWidth": 4, "tickColor": "#000000", "labels": false, "title": null}}}},
        {"data": {"name": "b"}, "mark": {"type": "point", "filled": true, "opacity": 1},
         "encoding": {
           "x": {"field": "x", "type": "quantitative", "scale": {"domain": [0.4, 5.6], "nice": false, "zero": false},
                 "axis": {"values": [1, 2, 3, 4, 5], "tickSize": 14, "labelPadding": 5, "labelLineHeight": 41, "labelAngle": 0, "labelLimit": 600, "title": null,
                          "labelExpr": "datum.value == 1 ? ['volumetric', 'median, Dₚ,₅₀'] : datum.value == 2 ? ['number-based', 'median'] : datum.value == 3 ? ['volume-weighted', 'nw = 3'] : datum.value == 4 ? ['number-weighted', 'nw = 0'] : ['measured Dₚ']"}},
           "y": {"field": "v", "type": "quantitative", "scale": {"type": "log", "domain": [0.2636, 14.22], "nice": false},
                 "axis": {"orient": "left", "values": [1, 10], "labelExpr": "datum.value >= 10 ? '10¹' : '10⁰'", "tickSize": 14, "labelPadding": 9, "title": "primary particle diameter (µm)", "titlePadding": 10}},
           "color": {"field": "site", "type": "nominal", "scale": {"domain": ["WO", "GP", "M1", "M2"], "range": ["#2F3F95", "#67A6CE", "#A10025", "#F67F45"]}, "legend": null},
           "shape": {"field": "season", "type": "nominal", "scale": {"domain": ["spring", "summer"], "range": ["square", "triangle-up"]}, "legend": null},
           "size": {"field": "season", "type": "ordinal", "scale": {"domain": ["spring", "summer"], "range": [324, 484]}, "legend": null}
         }},
        {"data": {"values": [{}]}, "mark": {"type": "rule", "color": "#000000", "strokeWidth": 3},
         "encoding": {"x": {"datum": 5.484, "type": "quantitative", "scale": {"domain": [0.4, 5.6], "nice": false, "zero": false}},
           "y": {"datum": 4.51, "type": "quantitative", "scale": {"type": "log", "domain": [0.2636, 14.22], "nice": false}, "axis": null}, "y2": {"datum": 1.86}}},
        {"data": {"values": [{}]}, "mark": {"type": "point", "shape": "triangle-down", "filled": true, "color": "#000000", "size": 300, "opacity": 1},
         "encoding": {"x": {"datum": 5.484, "type": "quantitative", "scale": {"domain": [0.4, 5.6], "nice": false, "zero": false}},
           "y": {"datum": 1.823, "type": "quantitative", "scale": {"type": "log", "domain": [0.2636, 14.22], "nice": false}, "axis": null}}},
        {"data": {"values": [{}]}, "mark": {"type": "text", "text": "(b)", "fontSize": 70, "fontWeight": "bold", "align": "left", "baseline": "middle"},
         "encoding": {"x": {"datum": 0.539, "type": "quantitative", "scale": {"domain": [0.4, 5.6], "nice": false, "zero": false}},
           "y": {"datum": 10.78, "type": "quantitative", "scale": {"type": "log", "domain": [0.2636, 14.22], "nice": false}, "axis": null}}},
        {"data": {"values": [{}]}, "mark": {"type": "text", "text": "fractal", "fontSize": 50, "align": "left", "baseline": "alphabetic"},
         "encoding": {"x": {"datum": 2.763, "type": "quantitative", "scale": {"domain": [0.4, 5.6], "nice": false, "zero": false}},
           "y": {"datum": 0.3558, "type": "quantitative", "scale": {"type": "log", "domain": [0.2636, 14.22], "nice": false}, "axis": null}}},
        {"data": {"values": [{}]}, "mark": {"type": "text", "text": "D", "fontSize": 50, "fontStyle": "italic", "align": "left", "baseline": "alphabetic", "dx": 150},
         "encoding": {"x": {"datum": 2.763, "type": "quantitative", "scale": {"domain": [0.4, 5.6], "nice": false, "zero": false}},
           "y": {"datum": 0.3558, "type": "quantitative", "scale": {"type": "log", "domain": [0.2636, 14.22], "nice": false}, "axis": null}}},
        {"data": {"values": [{}]}, "mark": {"type": "text", "text": "p", "fontSize": 35, "fontStyle": "italic", "align": "left", "baseline": "alphabetic", "dx": 187, "dy": 10},
         "encoding": {"x": {"datum": 2.763, "type": "quantitative", "scale": {"domain": [0.4, 5.6], "nice": false, "zero": false}},
           "y": {"datum": 0.3558, "type": "quantitative", "scale": {"type": "log", "domain": [0.2636, 14.22], "nice": false}, "axis": null}}},
        {"data": {"values": [{}]}, "mark": {"type": "text", "text": "models, Eq. (5)", "fontSize": 50, "align": "left", "baseline": "alphabetic", "dx": 220},
         "encoding": {"x": {"datum": 2.763, "type": "quantitative", "scale": {"domain": [0.4, 5.6], "nice": false, "zero": false}},
           "y": {"datum": 0.3558, "type": "quantitative", "scale": {"type": "log", "domain": [0.2636, 14.22], "nice": false}, "axis": null}}},
        {"data": {"values": [{}]}, "mark": {"type": "text", "text": "median", "fontSize": 50, "align": "right", "baseline": "alphabetic"},
         "encoding": {"x": {"datum": 5.582, "type": "quantitative", "scale": {"domain": [0.4, 5.6], "nice": false, "zero": false}},
           "y": {"datum": 8.66, "type": "quantitative", "scale": {"type": "log", "domain": [0.2636, 14.22], "nice": false}, "axis": null}}},
        {"data": {"values": [{}]}, "mark": {"type": "text", "text": "measured", "fontSize": 50, "align": "right", "baseline": "alphabetic"},
         "encoding": {"x": {"datum": 5.582, "type": "quantitative", "scale": {"domain": [0.4, 5.6], "nice": false, "zero": false}},
           "y": {"datum": 6.41, "type": "quantitative", "scale": {"type": "log", "domain": [0.2636, 14.22], "nice": false}, "axis": null}}},
        {"data": {"values": [{}]}, "mark": {"type": "text", "text": "= 1.7 µm", "fontSize": 50, "align": "right", "baseline": "alphabetic"},
         "encoding": {"x": {"datum": 5.582, "type": "quantitative", "scale": {"domain": [0.4, 5.6], "nice": false, "zero": false}},
           "y": {"datum": 4.75, "type": "quantitative", "scale": {"type": "log", "domain": [0.2636, 14.22], "nice": false}, "axis": null}}},
        {"data": {"values": [{}]}, "mark": {"type": "text", "text": "p", "fontSize": 35, "fontStyle": "italic", "align": "right", "baseline": "alphabetic", "dx": -205, "dy": 10},
         "encoding": {"x": {"datum": 5.582, "type": "quantitative", "scale": {"domain": [0.4, 5.6], "nice": false, "zero": false}},
           "y": {"datum": 4.75, "type": "quantitative", "scale": {"type": "log", "domain": [0.2636, 14.22], "nice": false}, "axis": null}}},
        {"data": {"values": [{}]}, "mark": {"type": "text", "text": "D", "fontSize": 50, "fontStyle": "italic", "align": "right", "baseline": "alphabetic", "dx": -226},
         "encoding": {"x": {"datum": 5.582, "type": "quantitative", "scale": {"domain": [0.4, 5.6], "nice": false, "zero": false}},
           "y": {"datum": 4.75, "type": "quantitative", "scale": {"type": "log", "domain": [0.2636, 14.22], "nice": false}, "axis": null}}}
      ]
    }
  ]
}
